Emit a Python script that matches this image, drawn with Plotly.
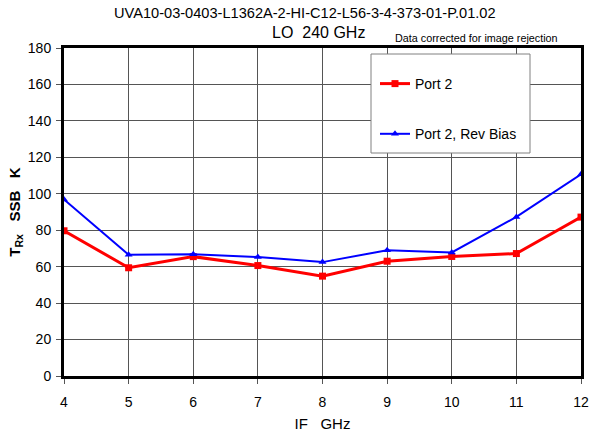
import plotly.graph_objects as go

if_ghz = [4, 5, 6, 7, 8, 9, 10, 11, 12]
port2 = [79.7, 59.4, 65.5, 60.6, 54.8, 63.0, 65.6, 67.2, 87.2]
port2_rev = [96.9, 66.5, 66.8, 65.3, 62.5, 69.0, 67.8, 87.3, 110.7]

FONT = "Liberation Sans, Arial, sans-serif"

fig = go.Figure()
fig.add_trace(go.Scatter(
    x=if_ghz, y=port2, name="Port 2", mode="lines+markers",
    line=dict(color="#FF0000", width=3),
    marker=dict(symbol="square", size=7, color="#FF0000"),
    legendgroup="a",
))
fig.add_trace(go.Scatter(
    x=if_ghz, y=port2_rev, name="Port 2, Rev Bias", mode="lines+markers",
    line=dict(color="#0000FF", width=2),
    marker=dict(symbol="triangle-up", size=7, color="#0000FF"),
    legendgroup="b",
))

L, R, T, B = 64, 11, 48, 59
W, H = 592, 435
pw, ph = W - L - R, H - T - B

def px_x(p):
    return (p - L) / pw

def px_y(p):
    return (H - B - p) / ph

fig.update_layout(
    width=W, height=H,
    margin=dict(l=L, r=R, t=T, b=B, autoexpand=False),
    paper_bgcolor="white", plot_bgcolor="white",
    font=dict(family=FONT, size=14, color="black"),
    showlegend=True,
    legend=dict(
        x=px_x(375), y=px_y(68), xanchor="left", yanchor="top",
        bgcolor="rgba(0,0,0,0)", borderwidth=0,
        font=dict(size=14, family=FONT),
        tracegroupgap=29,
    ),
    shapes=[dict(
        type="rect", xref="paper", yref="paper", layer="above",
        x0=px_x(371), x1=px_x(530), y0=px_y(54), y1=px_y(153),
        fillcolor="white", line=dict(color="#808080", width=1),
    )],
    annotations=[
        dict(text="UVA10-03-0403-L1362A-2-HI-C12-L56-3-4-373-01-P.01.02",
             xref="paper", yref="paper", x=px_x(305), y=px_y(12.7),
             showarrow=False, font=dict(size=14.6, family=FONT),
             xanchor="center", yanchor="middle"),
        dict(text="LO  240 GHz",
             xref="paper", yref="paper", x=px_x(318), y=px_y(32.7),
             showarrow=False, font=dict(size=16, family=FONT),
             xanchor="center", yanchor="middle"),
        dict(text="Data corrected for image rejection",
             xref="paper", yref="paper", x=px_x(476), y=px_y(37.7),
             showarrow=False, font=dict(size=10.8, family=FONT),
             xanchor="center", yanchor="middle"),
    ],
)

fig.update_xaxes(
    range=[4, 12], dtick=1, tick0=4, automargin=False,
    showgrid=True, gridcolor="#555555", gridwidth=1,
    showline=True, linecolor="black", linewidth=3, mirror=True,
    ticks="outside", ticklen=5, tickcolor="#555555",
    tickfont=dict(size=14, family=FONT),
    ticklabelstandoff=6,
    title=dict(text="IF   GHz", font=dict(size=15, family=FONT), standoff=10),
    zeroline=False,
)
fig.update_yaxes(
    range=[0, 180], dtick=20, automargin=False,
    showgrid=True, gridcolor="#555555", gridwidth=1,
    showline=True, linecolor="black", linewidth=3, mirror=True,
    ticks="outside", ticklen=5, tickcolor="#555555",
    tickfont=dict(size=14, family=FONT),
    ticklabelstandoff=2,
    title=dict(text="<b>T<sub>Rx</sub>   SSB   K</b>", font=dict(size=15, family=FONT), standoff=4),
    zeroline=False,
)

fig.write_html("out.html")
